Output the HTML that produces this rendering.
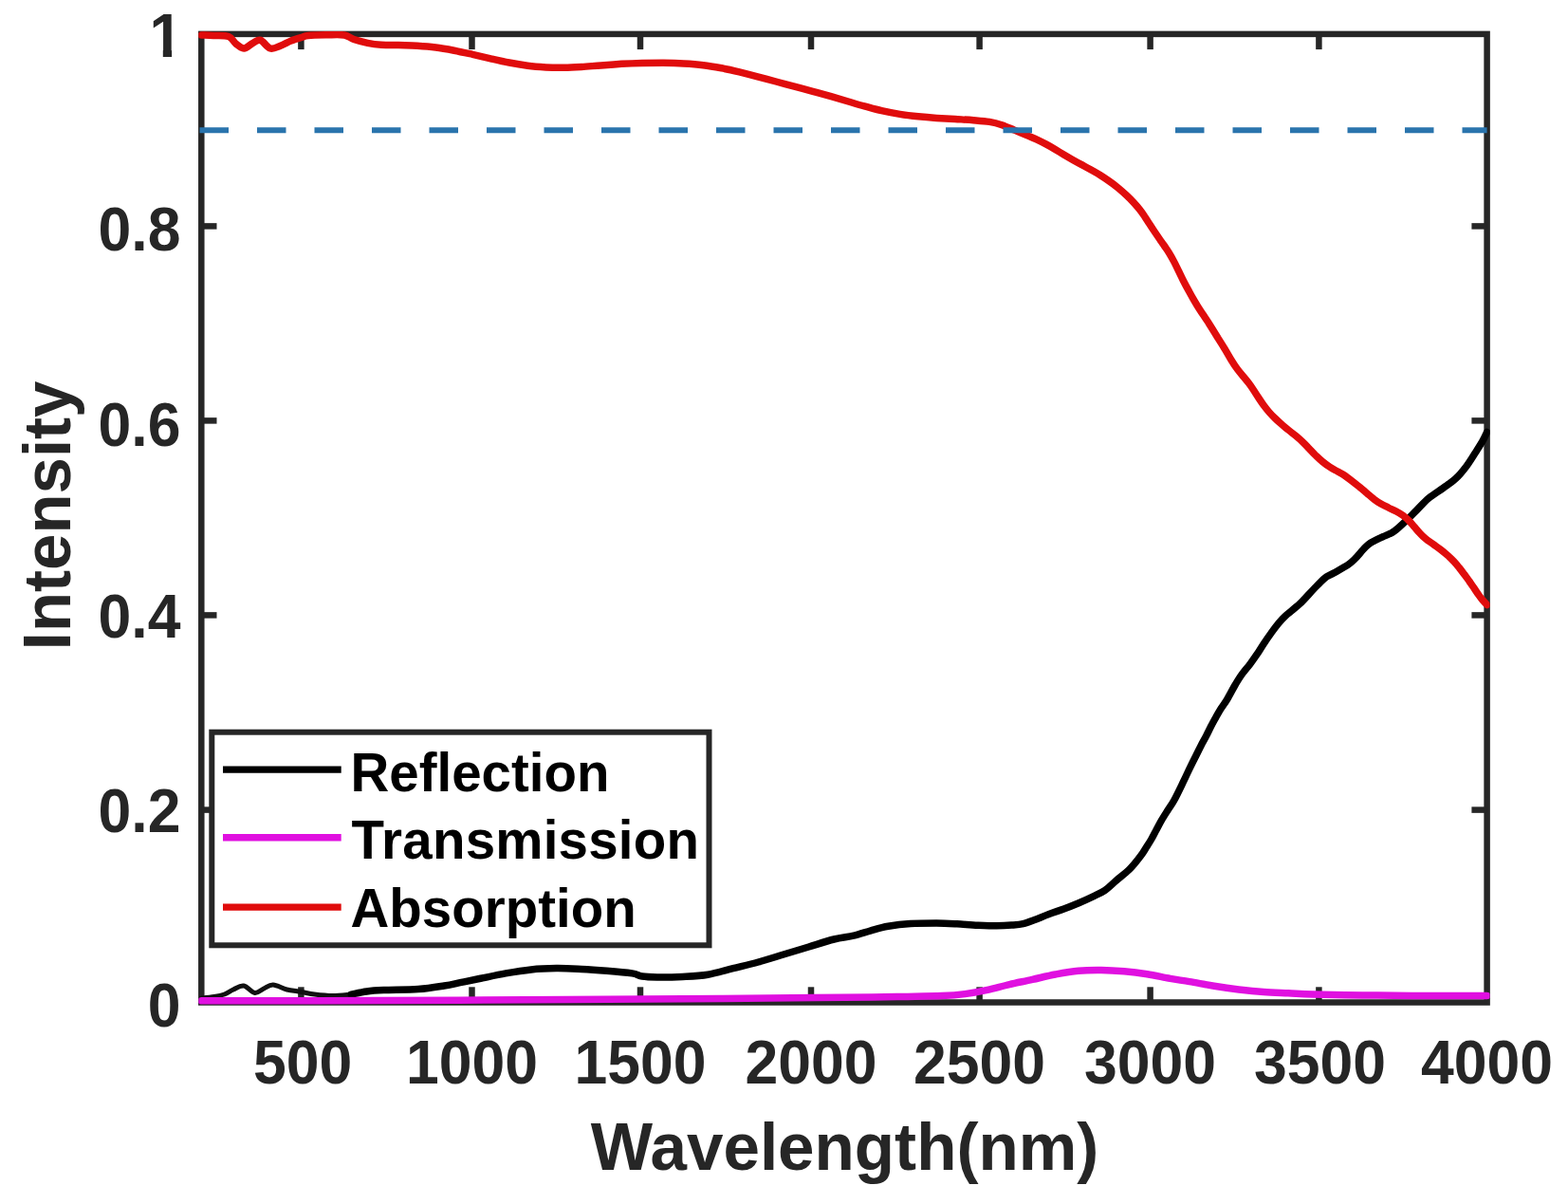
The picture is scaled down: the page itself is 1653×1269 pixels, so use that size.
<!DOCTYPE html><html><head><meta charset="utf-8"><title>Intensity vs Wavelength</title><style>
html,body{margin:0;padding:0;background:#fff;}svg{display:block;}
text{font-family:"Liberation Sans",Arial,Helvetica,sans-serif;font-weight:bold;}
</style></head><body>
<svg width="1653" height="1269" viewBox="0 0 1653 1269">
<rect width="1653" height="1269" fill="#fff"/>
<g stroke="#262626" stroke-width="6.5" fill="none" stroke-linecap="butt">
<rect x="212.3" y="35.9" width="1355.3" height="1020.6"/>
<line x1="317.4" y1="35.9" x2="317.4" y2="52.1"/>
<line x1="317.4" y1="1056.5" x2="317.4" y2="1040.3"/>
<line x1="497.5" y1="35.9" x2="497.5" y2="52.1"/>
<line x1="497.5" y1="1056.5" x2="497.5" y2="1040.3"/>
<line x1="675.0" y1="35.9" x2="675.0" y2="52.1"/>
<line x1="675.0" y1="1056.5" x2="675.0" y2="1040.3"/>
<line x1="855.0" y1="35.9" x2="855.0" y2="52.1"/>
<line x1="855.0" y1="1056.5" x2="855.0" y2="1040.3"/>
<line x1="1032.6" y1="35.9" x2="1032.6" y2="52.1"/>
<line x1="1032.6" y1="1056.5" x2="1032.6" y2="1040.3"/>
<line x1="1212.6" y1="35.9" x2="1212.6" y2="52.1"/>
<line x1="1212.6" y1="1056.5" x2="1212.6" y2="1040.3"/>
<line x1="1390.4" y1="35.9" x2="1390.4" y2="52.1"/>
<line x1="1390.4" y1="1056.5" x2="1390.4" y2="1040.3"/>
<line x1="212.3" y1="853.6" x2="228.5" y2="853.6"/>
<line x1="1567.6" y1="853.6" x2="1551.4" y2="853.6"/>
<line x1="212.3" y1="648.4" x2="228.5" y2="648.4"/>
<line x1="1567.6" y1="648.4" x2="1551.4" y2="648.4"/>
<line x1="212.3" y1="443.4" x2="228.5" y2="443.4"/>
<line x1="1567.6" y1="443.4" x2="1551.4" y2="443.4"/>
<line x1="212.3" y1="238.4" x2="228.5" y2="238.4"/>
<line x1="1567.6" y1="238.4" x2="1551.4" y2="238.4"/>
</g>
<defs><clipPath id="c"><rect x="209.3" y="32.9" width="1361.3" height="1026.6"/></clipPath></defs>
<g clip-path="url(#c)" fill="none" stroke-width="7.5" stroke-linejoin="round" stroke-linecap="round">
<path d="M212.3,1052.0 C214.6,1051.8 221.9,1051.2 226.0,1050.5 C230.1,1049.8 233.3,1049.2 236.6,1048.0 C239.9,1046.8 242.6,1044.5 246.0,1043.0 C249.4,1041.5 253.2,1038.4 257.0,1039.0 C260.8,1039.6 265.1,1046.0 268.6,1046.5 C272.1,1047.0 274.8,1043.4 278.0,1042.0 C281.2,1040.6 283.8,1037.8 287.9,1038.0 C292.0,1038.2 297.5,1041.8 302.4,1043.0 C307.2,1044.2 312.1,1044.5 317.0,1045.3 C321.9,1046.1 325.9,1047.3 331.5,1048.0 C337.1,1048.7 344.4,1049.5 350.8,1049.5 C357.2,1049.5 367.0,1048.4 370.2,1048.2" stroke="#111" stroke-width="5"/>
<path d="M370.2,1048.2 C372.9,1047.7 380.8,1045.8 386.5,1045.0 C392.2,1044.2 395.5,1044.0 404.6,1043.6 C413.7,1043.2 430.4,1043.4 441.0,1042.6 C451.6,1041.8 460.6,1040.2 468.2,1039.0 C475.8,1037.8 479.9,1036.7 486.3,1035.4 C492.7,1034.1 498.8,1032.9 506.6,1031.3 C514.4,1029.7 524.3,1027.5 533.2,1025.9 C542.1,1024.3 551.0,1022.8 559.9,1021.9 C568.8,1021.0 577.6,1020.7 586.5,1020.6 C595.4,1020.5 604.2,1021.0 613.1,1021.4 C622.0,1021.8 630.8,1022.5 639.7,1023.3 C648.6,1024.0 660.1,1025.0 666.3,1025.9 C672.5,1026.9 672.6,1028.3 677.0,1029.0 C681.4,1029.7 685.8,1029.8 692.9,1029.9 C700.0,1030.0 710.7,1029.8 719.6,1029.4 C728.5,1029.0 737.3,1028.8 746.2,1027.3 C755.1,1025.8 763.9,1022.8 772.8,1020.6 C781.7,1018.4 790.5,1016.4 799.4,1014.0 C808.3,1011.6 817.1,1008.7 826.0,1006.0 C834.9,1003.3 843.7,1000.7 852.6,998.0 C861.5,995.3 871.3,992.0 879.2,990.0 C887.1,988.0 893.5,987.7 900.0,986.2 C906.5,984.7 912.1,982.5 918.1,980.8 C924.1,979.1 929.3,977.4 936.3,976.2 C943.3,975.0 951.4,974.0 959.9,973.5 C968.4,973.0 978.9,973.0 987.1,973.0 C995.3,973.0 1001.6,973.4 1008.9,973.8 C1016.2,974.2 1023.8,974.9 1030.7,975.2 C1037.7,975.5 1044.6,975.8 1050.6,975.8 C1056.6,975.8 1061.8,975.5 1066.5,975.1 C1071.2,974.7 1074.7,974.5 1078.6,973.6 C1082.5,972.7 1085.5,971.5 1090.0,969.8 C1094.5,968.1 1100.5,965.5 1105.8,963.5 C1111.0,961.5 1116.2,960.0 1121.5,958.0 C1126.8,956.0 1132.0,953.9 1137.3,951.7 C1142.5,949.5 1148.4,946.8 1153.0,944.6 C1157.6,942.4 1161.0,941.0 1164.9,938.3 C1168.9,935.5 1172.4,931.8 1176.7,928.1 C1181.0,924.4 1186.5,920.5 1190.8,916.2 C1195.1,911.9 1199.6,906.1 1202.6,902.1 C1205.6,898.1 1206.9,895.4 1208.8,892.5 C1210.7,889.6 1212.1,887.5 1213.8,884.5 C1215.5,881.5 1217.2,878.1 1219.0,874.7 C1220.8,871.4 1222.6,867.8 1224.6,864.4 C1226.6,861.0 1228.7,857.7 1230.9,854.2 C1233.1,850.7 1235.0,848.5 1237.9,843.2 C1240.8,838.0 1245.3,828.4 1248.1,822.7 C1250.8,817.1 1252.3,813.6 1254.4,809.3 C1256.5,805.0 1258.7,800.6 1260.7,796.7 C1262.7,792.8 1264.4,789.2 1266.2,785.7 C1268.0,782.2 1270.0,778.8 1271.7,775.5 C1273.4,772.2 1274.7,769.3 1276.4,766.0 C1278.1,762.7 1280.0,759.1 1281.9,755.8 C1283.8,752.5 1285.6,749.3 1287.5,746.3 C1289.4,743.3 1291.0,741.5 1293.3,737.7 C1295.6,733.9 1298.6,728.0 1301.2,723.5 C1303.8,719.0 1306.3,714.8 1309.1,710.9 C1311.9,707.0 1315.0,703.6 1317.8,699.9 C1320.5,696.2 1323.1,692.6 1325.6,688.9 C1328.1,685.2 1330.3,681.3 1332.7,677.8 C1335.1,674.2 1337.4,670.9 1339.8,667.6 C1342.2,664.3 1344.4,661.1 1346.9,658.1 C1349.4,655.1 1350.9,653.1 1354.8,649.5 C1358.7,645.9 1365.0,641.4 1370.1,636.6 C1375.2,631.8 1380.9,625.0 1385.3,620.5 C1389.7,616.0 1393.4,612.1 1396.3,609.6 C1399.2,607.1 1400.5,607.0 1402.6,605.8 C1404.7,604.6 1406.8,603.6 1408.9,602.4 C1411.0,601.2 1413.1,600.0 1415.2,598.8 C1417.3,597.6 1419.4,596.5 1421.5,595.0 C1423.6,593.5 1424.8,592.6 1427.8,589.6 C1430.8,586.6 1436.5,579.7 1439.5,576.7 C1442.5,573.7 1443.7,573.0 1445.8,571.6 C1447.9,570.2 1450.0,569.3 1452.1,568.3 C1454.2,567.3 1456.3,566.4 1458.4,565.5 C1460.5,564.6 1462.8,563.7 1464.7,562.7 C1466.6,561.8 1467.0,562.1 1470.0,559.8 C1473.0,557.5 1478.5,552.4 1482.4,548.7 C1486.3,545.0 1489.5,541.6 1493.5,537.7 C1497.5,533.8 1501.4,529.0 1506.1,525.1 C1510.8,521.2 1517.1,517.5 1521.8,514.1 C1526.5,510.7 1530.5,508.3 1534.5,504.6 C1538.5,500.9 1542.1,496.5 1545.5,492.0 C1548.9,487.5 1552.0,482.3 1554.9,477.8 C1557.8,473.3 1560.7,468.9 1562.8,465.2 C1564.9,461.5 1566.8,457.1 1567.6,455.5" stroke="#000"/>
<path d="M212.3,1054.8 C243.6,1054.8 335.4,1054.7 400.0,1054.5 C464.6,1054.3 540.0,1053.8 600.0,1053.5 C660.0,1053.2 716.7,1052.8 760.0,1052.5 C803.3,1052.2 833.3,1051.8 860.0,1051.5 C886.7,1051.2 903.9,1051.2 920.0,1051.0 C936.1,1050.8 944.6,1050.6 956.8,1050.4 C969.0,1050.2 982.9,1050.1 993.0,1049.6 C1003.1,1049.1 1009.3,1048.6 1017.3,1047.6 C1025.3,1046.6 1033.2,1045.1 1041.0,1043.4 C1048.8,1041.7 1056.3,1039.4 1064.2,1037.6 C1072.1,1035.8 1080.3,1034.2 1088.4,1032.4 C1096.5,1030.6 1104.5,1028.5 1112.6,1027.0 C1120.7,1025.5 1128.7,1024.0 1136.8,1023.3 C1144.9,1022.5 1152.9,1022.4 1161.0,1022.5 C1169.1,1022.6 1177.1,1023.1 1185.2,1023.8 C1193.3,1024.5 1201.3,1025.5 1209.4,1026.8 C1217.5,1028.1 1226.2,1030.1 1233.6,1031.4 C1241.0,1032.7 1246.3,1033.3 1254.0,1034.6 C1261.7,1035.9 1271.3,1037.9 1280.0,1039.3 C1288.7,1040.7 1297.3,1041.9 1306.0,1042.9 C1314.7,1043.9 1323.3,1044.8 1332.0,1045.5 C1340.7,1046.2 1349.3,1046.4 1358.0,1046.8 C1366.7,1047.2 1371.0,1047.8 1384.0,1048.1 C1397.0,1048.4 1418.7,1048.7 1436.0,1048.9 C1453.3,1049.1 1466.1,1049.3 1488.0,1049.4 C1509.9,1049.5 1554.3,1049.5 1567.6,1049.5" stroke="#e010e0"/>
<path d="M212.3,37.0 C214.4,37.1 220.2,37.2 225.0,37.5 C229.8,37.8 237.1,37.1 241.0,38.5 C244.9,39.9 245.9,43.9 248.6,46.0 C251.3,48.1 254.3,51.1 257.3,51.0 C260.3,50.9 263.8,46.7 266.7,45.3 C269.6,43.9 271.7,41.4 274.7,42.4 C277.7,43.4 281.4,50.0 284.9,51.0 C288.4,52.0 292.1,49.5 295.7,48.2 C299.3,46.9 303.0,44.6 306.6,43.1 C310.2,41.6 314.4,40.4 317.5,39.5 C320.6,38.6 320.4,38.0 325.0,37.5 C329.6,37.0 338.7,36.9 345.0,36.8 C351.3,36.7 358.3,36.2 363.0,37.0 C367.7,37.8 368.9,40.1 373.0,41.5 C377.1,42.9 382.8,44.3 387.6,45.3 C392.4,46.3 396.6,46.9 402.0,47.3 C407.4,47.7 413.7,47.5 420.0,47.6 C426.3,47.8 433.3,47.8 439.9,48.2 C446.4,48.6 452.9,49.1 459.4,50.0 C465.9,50.8 472.3,52.0 478.7,53.2 C485.2,54.5 491.6,55.9 498.1,57.3 C504.5,58.8 511.0,60.3 517.4,61.8 C523.9,63.3 530.3,64.8 536.8,66.0 C543.3,67.3 549.7,68.4 556.2,69.2 C562.6,70.0 569.2,70.5 575.5,70.9 C581.9,71.2 588.0,71.3 594.3,71.2 C600.5,71.2 606.5,70.9 613.0,70.5 C619.6,70.1 626.5,69.4 633.6,68.9 C640.6,68.4 648.1,67.8 655.3,67.3 C662.6,66.9 669.8,66.6 677.1,66.4 C684.4,66.2 691.6,66.2 698.9,66.2 C706.2,66.3 713.6,66.5 720.7,67.0 C727.8,67.4 734.8,67.9 741.4,68.7 C748.1,69.5 754.1,70.6 760.5,71.8 C766.8,72.9 773.0,74.3 779.4,75.8 C785.8,77.4 792.3,79.1 798.7,80.8 C805.2,82.5 811.6,84.3 818.1,86.0 C824.5,87.7 831.0,89.4 837.4,91.1 C843.9,92.8 850.3,94.5 856.8,96.3 C863.3,98.1 869.9,99.9 876.2,101.7 C882.4,103.5 888.5,105.3 894.3,107.0 C900.1,108.7 905.4,110.3 911.2,111.9 C917.1,113.5 923.1,115.3 929.4,116.7 C935.6,118.1 942.3,119.4 948.7,120.4 C955.2,121.5 961.6,122.2 968.1,122.8 C974.5,123.5 981.0,124.0 987.4,124.4 C993.9,124.8 1000.3,125.1 1006.8,125.5 C1013.3,125.9 1020.1,126.2 1026.2,126.7 C1032.2,127.2 1038.0,127.6 1043.0,128.4 C1048.1,129.3 1051.9,130.3 1056.2,131.7 C1060.6,133.1 1065.0,135.3 1069.4,137.1 C1073.8,138.9 1078.5,141.0 1082.4,142.6 C1086.4,144.3 1089.7,145.6 1093.1,147.1 C1096.5,148.7 1099.4,150.2 1102.6,151.9 C1105.7,153.5 1108.9,155.4 1112.0,157.3 C1115.2,159.2 1118.3,161.1 1121.5,163.0 C1124.6,164.8 1127.8,166.6 1130.9,168.4 C1134.1,170.2 1137.2,171.9 1140.4,173.6 C1143.5,175.3 1146.7,177.0 1149.8,178.8 C1153.0,180.6 1156.1,182.3 1159.3,184.2 C1162.5,186.2 1165.7,188.3 1168.9,190.6 C1172.1,192.8 1175.5,195.3 1178.5,197.8 C1181.5,200.3 1184.5,202.9 1187.2,205.5 C1189.9,208.0 1192.5,210.6 1194.8,213.1 C1197.1,215.6 1199.3,218.1 1201.3,220.6 C1203.3,223.1 1205.1,225.7 1206.8,228.3 C1208.6,230.9 1210.1,233.5 1211.8,236.0 C1213.4,238.5 1215.0,241.0 1216.7,243.5 C1218.4,246.0 1220.1,248.5 1221.8,251.0 C1223.5,253.5 1225.2,255.8 1227.0,258.4 C1228.7,261.0 1230.6,263.5 1232.4,266.4 C1234.2,269.3 1236.0,272.6 1237.7,275.9 C1239.4,279.1 1241.0,282.6 1242.6,285.8 C1244.2,289.1 1245.7,292.3 1247.3,295.5 C1248.9,298.7 1250.6,301.8 1252.3,304.9 C1254.0,308.0 1255.7,311.2 1257.4,314.2 C1259.1,317.2 1260.8,320.0 1262.5,322.8 C1264.2,325.6 1266.0,328.2 1267.8,330.9 C1269.6,333.6 1271.4,336.2 1273.1,338.8 C1274.8,341.4 1276.3,343.8 1278.1,346.7 C1279.9,349.6 1281.7,352.5 1283.8,356.0 C1286.0,359.4 1288.6,363.6 1291.0,367.5 C1293.3,371.4 1295.7,375.7 1297.9,379.3 C1300.1,382.9 1302.2,386.2 1304.4,389.1 C1306.6,392.1 1308.8,394.5 1310.9,397.0 C1313.0,399.5 1314.9,401.8 1316.8,404.3 C1318.7,406.8 1320.4,409.4 1322.1,412.0 C1323.8,414.6 1325.5,417.3 1327.2,419.9 C1328.9,422.5 1330.6,425.0 1332.4,427.4 C1334.1,429.8 1335.8,431.9 1337.7,434.1 C1339.6,436.3 1341.6,438.4 1343.8,440.5 C1345.9,442.6 1348.2,444.7 1350.6,446.8 C1353.0,448.9 1355.5,450.9 1358.0,453.0 C1360.6,455.1 1363.2,457.1 1365.8,459.2 C1368.3,461.3 1370.9,463.5 1373.2,465.7 C1375.6,467.9 1377.7,470.3 1379.9,472.6 C1382.1,474.9 1384.2,477.3 1386.6,479.6 C1389.0,481.9 1391.5,484.4 1394.1,486.5 C1396.7,488.6 1399.5,490.7 1402.2,492.4 C1404.9,494.2 1407.7,495.5 1410.3,497.0 C1412.9,498.5 1415.4,499.8 1418.0,501.5 C1420.5,503.2 1423.0,505.2 1425.6,507.2 C1428.2,509.2 1430.9,511.4 1433.5,513.5 C1436.1,515.6 1438.6,517.8 1441.0,519.8 C1443.5,521.9 1445.7,524.1 1448.2,525.9 C1450.7,527.8 1453.2,529.5 1455.8,531.0 C1458.3,532.5 1461.0,533.7 1463.6,535.0 C1466.2,536.3 1468.9,537.4 1471.5,538.8 C1474.1,540.2 1476.7,541.6 1479.0,543.3 C1481.3,545.0 1483.5,547.0 1485.5,549.0 C1487.5,551.0 1489.3,553.3 1491.2,555.5 C1493.1,557.7 1494.8,559.9 1496.8,561.9 C1498.7,564.0 1500.7,565.9 1503.0,567.8 C1505.3,569.7 1507.9,571.4 1510.5,573.3 C1513.0,575.2 1515.8,577.0 1518.4,579.0 C1521.0,581.0 1523.6,583.2 1526.0,585.3 C1528.4,587.4 1530.7,589.7 1532.8,591.9 C1534.9,594.1 1536.6,596.2 1538.4,598.5 C1540.3,600.8 1542.0,603.1 1543.7,605.4 C1545.5,607.7 1547.2,610.2 1548.9,612.5 C1550.5,614.8 1552.1,617.2 1553.7,619.4 C1555.2,621.7 1556.6,623.9 1558.1,626.0 C1559.6,628.1 1561.0,630.1 1562.6,632.0 C1564.2,633.9 1566.8,636.6 1567.6,637.5" stroke="#e00c0c"/>
<line x1="210.5" y1="137.3" x2="1567.6" y2="137.3" stroke="#2a74ad" stroke-width="6" stroke-linecap="butt" stroke-dasharray="30.5 30" />
</g>
<g fill="#262626" font-size="62.5">
<text transform="translate(319.2,1142) scale(1,1.030)" text-anchor="middle">500</text>
<text transform="translate(497.5,1142) scale(1,1.030)" text-anchor="middle">1000</text>
<text transform="translate(675.0,1142) scale(1,1.030)" text-anchor="middle">1500</text>
<text transform="translate(855.0,1142) scale(1,1.030)" text-anchor="middle">2000</text>
<text transform="translate(1032.6,1142) scale(1,1.030)" text-anchor="middle">2500</text>
<text transform="translate(1212.6,1142) scale(1,1.030)" text-anchor="middle">3000</text>
<text transform="translate(1391.6,1142) scale(1,1.030)" text-anchor="middle">3500</text>
<text transform="translate(1567.6,1142) scale(1,1.030)" text-anchor="middle">4000</text>
<text transform="translate(190.4,1082.0) scale(1,1.030)" text-anchor="end">0</text>
<text transform="translate(190.4,876.7) scale(1,1.030)" text-anchor="end">0.2</text>
<text transform="translate(190.4,671.7) scale(1,1.030)" text-anchor="end">0.4</text>
<text transform="translate(190.4,469.5) scale(1,1.030)" text-anchor="end">0.6</text>
<text transform="translate(190.4,264.2) scale(1,1.030)" text-anchor="end">0.8</text>
<clipPath id="c1"><rect x="-5" y="-80" width="45" height="73.6"/><rect x="14.2" y="-10" width="9.3" height="12"/></clipPath>
<text transform="translate(157.6,59.6) scale(1,1.030)" clip-path="url(#c1)">1</text>
</g>
<text transform="translate(890.5,1232.5) scale(1,1.020)" text-anchor="middle" font-size="69.2" fill="#262626">Wavelength(nm)</text>
<text transform="translate(73.6,543.4) rotate(-90) scale(1,1.020)" text-anchor="middle" font-size="69" fill="#262626">Intensity</text>
<rect x="223.3" y="771.7" width="524.2" height="224.6" fill="#fff" stroke="#262626" stroke-width="6"/>
<g stroke-width="7.4">
<line x1="235" y1="811.1" x2="359.7" y2="811.1" stroke="#000"/>
<line x1="235" y1="882.8" x2="359.7" y2="882.8" stroke="#e010e0"/>
<line x1="235" y1="956.1" x2="359.7" y2="956.1" stroke="#e00c0c"/>
</g>
<g fill="#000" font-size="56.5">
<text transform="translate(369.5,834.4) scale(1,1.015)">Reflection</text>
<text transform="translate(370.5,905.2) scale(1,1.015)" textLength="366.5" lengthAdjust="spacing">Transmission</text>
<text transform="translate(369.5,977.1) scale(1,1.015)">Absorption</text>
</g>
</svg></body></html>
